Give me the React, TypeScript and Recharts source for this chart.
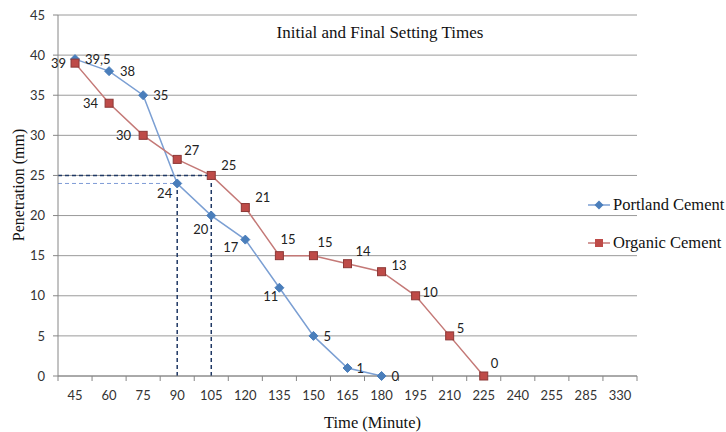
import React from 'react';
import {
  LineChart, Line, XAxis, YAxis, CartesianGrid, Legend, ReferenceLine, LabelList, Label
} from 'recharts';

const times = ['45', '60', '75', '90', '105', '120', '135', '150', '165', '180', '195', '210', '225', '240', '255', '285', '330'];
const portland = [39.5, 38, 35, 24, 20, 17, 11, 5, 1, 0];
const organic = [39, 34, 30, 27, 25, 21, 15, 15, 14, 13, 10, 5, 0];
const yTicks = [0, 5, 10, 15, 20, 25, 30, 35, 40, 45];

// where each data label sits relative to its point: [dx, dy, anchor]
const portlandLabelPos: [number, number, string][] = [
  [10, 0, 'start'], [11, 0, 'start'], [10, 0, 'start'], [-5, 10, 'end'], [-3, 13, 'end'],
  [-7, 7, 'end'], [-1, 8, 'end'], [10, 0, 'start'], [9, 0, 'start'], [10, 0, 'start'],
];
const organicLabelPos: [number, number, string][] = [
  [-9, 0, 'end'], [-11, 0, 'end'], [-12, 0, 'end'], [7, -9, 'start'], [10, -10, 'start'],
  [10, -11, 'start'], [1, -17, 'start'], [4, -14, 'start'], [8, -13, 'start'], [10, -7, 'start'],
  [7, -4, 'start'], [7, -8, 'start'], [7, -13, 'start'],
];

const data = times.map((t, i) => ({
  time: t,
  portland: i < portland.length ? portland[i] : null,
  organic: i < organic.length ? organic[i] : null,
}));

const BLUE_LINE = '#7b9fd3';
const BLUE_MARK = '#4a7ebb';
const RED_LINE = '#c47977';
const RED_MARK = '#be4b48';
const NAVY = '#1f3864';
const numFont = 'Lato, "Open Sans", sans-serif';
const serifFont = '"Liberation Serif", "DejaVu Serif", serif';

const Diamond = ({ cx, cy, index }: any) => {
  if (cx == null || cy == null) return <g key={index} />;
  return (
    <polygon key={index} points={`${cx},${cy - 4.5} ${cx + 4.5},${cy} ${cx},${cy + 4.5} ${cx - 4.5},${cy}`} fill={BLUE_MARK} stroke={BLUE_MARK} />
  );
};

const Square = ({ cx, cy, index }: any) => {
  if (cx == null || cy == null) return <g key={index} />;
  return <rect key={index} x={cx - 4} y={cy - 4} width={8} height={8} fill={RED_MARK} stroke="#8c3836" strokeWidth={1} />;
};

const makeLabel = (pos: [number, number, string][]) => (props: any) => {
  const { x, y, value, index } = props;
  if (value == null || x == null) return null;
  const [dx, dy, anchor] = pos[index] || [8, 0, 'start'];
  return (
    <text x={x + dx} y={y + dy} textAnchor={anchor} dominantBaseline="central" fontSize={13} fontFamily={numFont} fill="#222">
      {String(value).replace('.', ',')}
    </text>
  );
};

const XTick = ({ x, y, payload, index }: any) => {
  const half = payload.offset || 0;
  const last = index === times.length - 1;
  return (
    <g>
      <line x1={x - half} y1={y} x2={x - half} y2={y + 5} stroke="#868686" />
      {last && <line x1={x + half} y1={y} x2={x + half} y2={y + 5} stroke="#868686" />}
      <text x={x} y={y + 19} textAnchor="middle" dominantBaseline="central" fontSize={13} fontFamily={numFont} fill="#333">
        {payload.value}
      </text>
    </g>
  );
};

// extends a horizontal segment back to the y axis (half a category band before the first point)
const toAxis = (bands: number, color: string, width: number) => (p: any) => (
  <line
    x1={p.x1 - (p.x2 - p.x1) / (bands * 2)} y1={p.y1} x2={p.x2} y2={p.y2}
    stroke={color} strokeWidth={width} strokeDasharray="4 3"
  />
);

const LegendContent = () => (
  <div style={{ fontFamily: serifFont, fontSize: 16.5, color: '#111' }}>
    <div style={{ display: 'flex', alignItems: 'center', height: 20, marginBottom: 18 }}>
      <svg width={24} height={12}>
        <line x1={0} y1={6} x2={22} y2={6} stroke={BLUE_LINE} strokeWidth={1.5} />
        <polygon points="11,1.5 15.5,6 11,10.5 6.5,6" fill={BLUE_MARK} />
      </svg>
      <span style={{ marginLeft: 1, whiteSpace: 'nowrap' }}>Portland Cement</span>
    </div>
    <div style={{ display: 'flex', alignItems: 'center', height: 20 }}>
      <svg width={24} height={12}>
        <line x1={0} y1={6} x2={22} y2={6} stroke={RED_LINE} strokeWidth={1.5} />
        <rect x={7} y={2} width={8} height={8} fill={RED_MARK} />
      </svg>
      <span style={{ marginLeft: 1, whiteSpace: 'nowrap' }}>Organic Cement</span>
    </div>
  </div>
);

export default function App() {
  return (
    <div style={{ position: 'absolute', left: 0, top: 0, width: 726, height: 432, background: '#fff', overflow: 'hidden' }}>
      <LineChart width={726} height={432} data={data} margin={{ top: 15, right: 89, left: 0, bottom: 0 }}>
        <CartesianGrid vertical={false} stroke="#9a9a9a" />
        <XAxis
          dataKey="time"
          scale="band"
          height={56}
          axisLine={{ stroke: '#868686' }}
          tickLine={false}
          tickSize={0}
          tickMargin={0}
          interval={0}
          tick={<XTick />}
        >
          <Label
            content={({ viewBox }: any) => (
              <text x={viewBox.x + viewBox.width / 2 + 25} y={viewBox.y + 46} textAnchor="middle" dominantBaseline="central" fontSize={16.5} fontFamily={serifFont} fill="#111">
                Time  (Minute)
              </text>
            )}
          />
        </XAxis>
        <YAxis
          width={58}
          domain={[0, 45]}
          ticks={yTicks}
          interval={0}
          axisLine={{ stroke: '#868686' }}
          tickLine={{ stroke: '#868686' }}
          tickSize={5}
          tickMargin={8}
          tick={{ fontSize: 13, fontFamily: numFont, fill: '#333' }}
        >
          <Label
            content={() => (
              <text x={18} y={185} transform="rotate(-90, 18, 185)" textAnchor="middle" dominantBaseline="central" fontSize={16} fontFamily={serifFont} fill="#111">
                Penetration  (mm)
              </text>
            )}
          />
        </YAxis>
        <Legend
          layout="vertical"
          align="center"
          verticalAlign="middle"
          content={<LegendContent />}
          wrapperStyle={{ left: 588, top: 195, width: 140 }}
        />
        <ReferenceLine segment={[{ x: '90', y: 0 }, { x: '90', y: 24 }]} stroke={NAVY} strokeWidth={1.5} strokeDasharray="4 3" />
        <ReferenceLine segment={[{ x: '105', y: 0 }, { x: '105', y: 25 }]} stroke={NAVY} strokeWidth={1.5} strokeDasharray="4 3" />
        <ReferenceLine segment={[{ x: '45', y: 25 }, { x: '105', y: 25 }]} shape={toAxis(4, NAVY, 1.5)} />
        <ReferenceLine segment={[{ x: '45', y: 24 }, { x: '90', y: 24 }]} shape={toAxis(3, '#7f9bd6', 1)} />
        <Line
          dataKey="portland"
          name="Portland Cement"
          stroke={BLUE_LINE}
          strokeWidth={1.5}
          dot={Diamond}
          activeDot={false}
          isAnimationActive={false}
        >
          <LabelList dataKey="portland" content={makeLabel(portlandLabelPos)} />
        </Line>
        <Line
          dataKey="organic"
          name="Organic Cement"
          stroke={RED_LINE}
          strokeWidth={1.5}
          dot={Square}
          activeDot={false}
          isAnimationActive={false}
        >
          <LabelList dataKey="organic" content={makeLabel(organicLabelPos)} />
        </Line>
      </LineChart>
      <div style={{ position: 'absolute', left: 230, width: 300, top: 23, textAlign: 'center', fontFamily: serifFont, fontSize: 17, color: '#111' }}>
        Initial and  Final Setting Times
      </div>
    </div>
  );
}
